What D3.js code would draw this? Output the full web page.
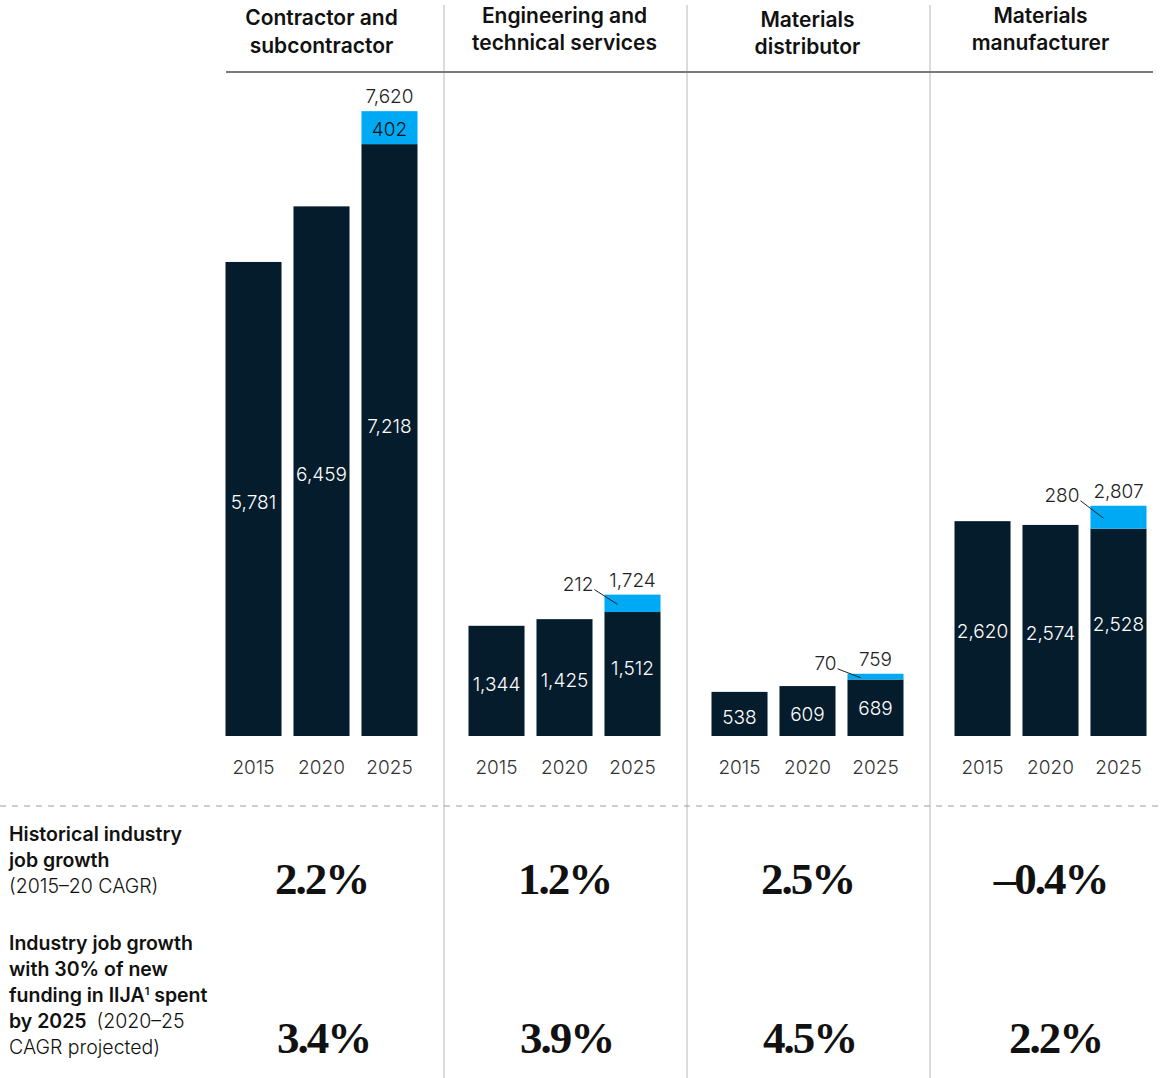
<!DOCTYPE html>
<html>
<head>
<meta charset="utf-8" />
<script src="https://d3js.org/d3.v7.min.js"></script>
<style>
  body { margin: 0; background: #fff; }
  text { font-family: Inter, "Noto Sans", sans-serif; }
</style>
</head>
<body>
<svg width="1161" height="1078"></svg>
<script>
  // Data
  var segments = ["Contractor and subcontractor", "Engineering and technical services", "Materials distributor", "Materials manufacturer"];
  var headerLines = [["Contractor and", "subcontractor"], ["Engineering and", "technical services"], ["Materials", "distributor"], ["Materials", "manufacturer"]];
  var years = ["2015", "2020", "2025"];
  var baseValues = [[5781, 6459, 7218], [1344, 1425, 1512], [538, 609, 689], [2620, 2574, 2528]];
  var iijaValues = [402, 212, 70, 280];
  var totals2025 = ["7,620", "1,724", "759", "2,807"];
  var historicalCagr = ["2.2%", "1.2%", "2.5%", "\u20130.4%"];
  var projectedCagr = ["3.4%", "3.9%", "4.5%", "2.2%"];

  var navy = "#051c2c", blue = "#00a9f4";
  var svg = d3.select("svg");

  var panel = d3.scaleBand().domain(segments).range([200, 1172]);
  var inner = d3.scaleBand().domain(years).range([0, 192]).paddingInner(0.176).paddingOuter(0);
  var y = d3.scaleLinear().domain([0, 8000]).range([736, 80]);
  var fmt = d3.format(",");

  // dividers
  svg.selectAll(".divider")
    .data(segments.slice(1))
    .enter().append("line")
    .attr("x1", function (d) { return panel(d) + 1; })
    .attr("x2", function (d) { return panel(d) + 1; })
    .attr("y1", 5).attr("y2", 1078)
    .attr("stroke", "#cfcfcf").attr("stroke-width", 1.5);

  // header rule
  svg.append("line").attr("x1", 226).attr("x2", 1153).attr("y1", 72).attr("y2", 72)
    .attr("stroke", "#7a7a7a").attr("stroke-width", 2);

  // dashed separator
  svg.append("line").attr("x1", 0).attr("x2", 1161).attr("y1", 806).attr("y2", 806)
    .attr("stroke", "#9a9a9a").attr("stroke-width", 1).attr("stroke-dasharray", "6,6");

  var headerY = [[18, 46], [16, 43], [20, 47], [16, 43]];
  var headerShift = [0, 0, 0, -10];

  var serif = "'Liberation Serif', 'DejaVu Serif', serif";

  segments.forEach(function (seg, i) {
    var cx = panel(seg) + panel.bandwidth() / 2;
    var g = svg.append("g").attr("transform", "translate(" + (cx - 96) + ",0)");

    // header
    headerLines[i].forEach(function (line, j) {
      svg.append("text").attr("x", cx + headerShift[i]).attr("y", headerY[i][j])
        .attr("dy", "0.35em").attr("text-anchor", "middle")
        .style("font-size", "21px").style("font-weight", 600).attr("fill", "#111")
        .text(line);
    });

    var rows = years.map(function (yr, k) { return { year: yr, value: baseValues[i][k] }; });

    g.selectAll(".bar").data(rows).enter().append("rect")
      .attr("x", function (d) { return inner(d.year); })
      .attr("y", function (d) { return y(d.value); })
      .attr("width", inner.bandwidth())
      .attr("height", function (d) { return y(0) - y(d.value); })
      .attr("fill", navy);

    var top = baseValues[i][2] + iijaValues[i];
    g.append("rect")
      .attr("x", inner("2025"))
      .attr("y", y(top))
      .attr("width", inner.bandwidth())
      .attr("height", y(baseValues[i][2]) - y(top))
      .attr("fill", blue);

    // value labels inside bars
    g.selectAll(".val").data(rows).enter().append("text")
      .attr("x", function (d) { return inner(d.year) + inner.bandwidth() / 2; })
      .attr("y", function (d) {
        var t = d.year === "2025" ? top : d.value;
        return (y(t) + y(0)) / 2 + 3;
      })
      .attr("dy", "0.35em").attr("text-anchor", "middle")
      .attr("fill", "#fff").style("font-size", "19px").style("font-weight", 300)
      .text(function (d) { return fmt(d.value); });

    // total label
    g.append("text")
      .attr("x", inner("2025") + inner.bandwidth() / 2)
      .attr("y", y(top) - 8)
      .attr("text-anchor", "middle").attr("fill", "#222")
      .style("font-size", "19px").style("font-weight", 300)
      .text(totals2025[i]);

    // IIJA label
    var segMid = (y(top) + y(baseValues[i][2])) / 2;
    if (i === 0) {
      g.append("text")
        .attr("x", inner("2025") + inner.bandwidth() / 2)
        .attr("y", segMid + 2).attr("dy", "0.35em")
        .attr("text-anchor", "middle").attr("fill", "#111")
        .style("font-size", "19px").style("font-weight", 300)
        .text(fmt(iijaValues[i]));
    } else {
      var bx = inner("2025");
      g.append("line")
        .attr("x1", bx - 10).attr("y1", y(top) - 5)
        .attr("x2", bx + 13).attr("y2", segMid + 1)
        .attr("stroke", "#222").attr("stroke-width", 1);
      g.append("text")
        .attr("x", bx - 11).attr("y", y(top) - 10)
        .attr("dy", "0.35em").attr("text-anchor", "end").attr("fill", "#222")
        .style("font-size", "19px").style("font-weight", 300)
        .text(fmt(iijaValues[i]));
    }

    // year axis
    g.append("g")
      .attr("transform", "translate(0,767)")
      .call(d3.axisBottom(inner).tickSize(0).tickPadding(0))
      .call(function (a) { a.select(".domain").remove(); })
      .selectAll("text")
      .attr("dy", "0.35em").attr("y", 0)
      .attr("fill", "#333")
      .style("font-size", "19px").style("font-weight", 300)
      .style("font-family", "Inter, 'Noto Sans', sans-serif");

    // CAGR values
    svg.append("text").attr("x", cx).attr("y", 878)
      .attr("dy", "0.35em").attr("text-anchor", "middle").attr("fill", "#111")
      .style("font-family", serif).style("letter-spacing", "-2px")
      .style("font-size", "45px").style("font-weight", 700)
      .text(historicalCagr[i]);
    svg.append("text").attr("x", cx + (i === 3 ? 5 : 2)).attr("y", 1037)
      .attr("dy", "0.35em").attr("text-anchor", "middle").attr("fill", "#111")
      .style("font-family", serif).style("letter-spacing", "-2px")
      .style("font-size", "45px").style("font-weight", 700)
      .text(projectedCagr[i]);
  });

  // left row labels
  function label(txt, yy, bold) {
    return svg.append("text").attr("x", 9).attr("y", yy).attr("dy", "0.35em")
      .attr("fill", "#111").style("font-size", "19.5px")
      .style("font-weight", bold ? 600 : 300).text(txt);
  }
  label("Historical industry", 834, true);
  label("job growth", 860, true);
  label("(2015\u201320 CAGR)", 886, false);
  label("Industry job growth", 943, true);
  label("with 30% of new", 969, true);
  var l3 = label("funding in IIJA", 995, true);
  l3.append("tspan").attr("baseline-shift", "super").style("font-size", "11px").text("1");
  l3.append("tspan").text(" spent");
  var l4 = label("by 2025", 1021, true);
  l4.append("tspan").style("font-weight", 300).text("\u2002(2020\u201325");
  label("CAGR projected)", 1047, false);
</script>
</body>
</html>
